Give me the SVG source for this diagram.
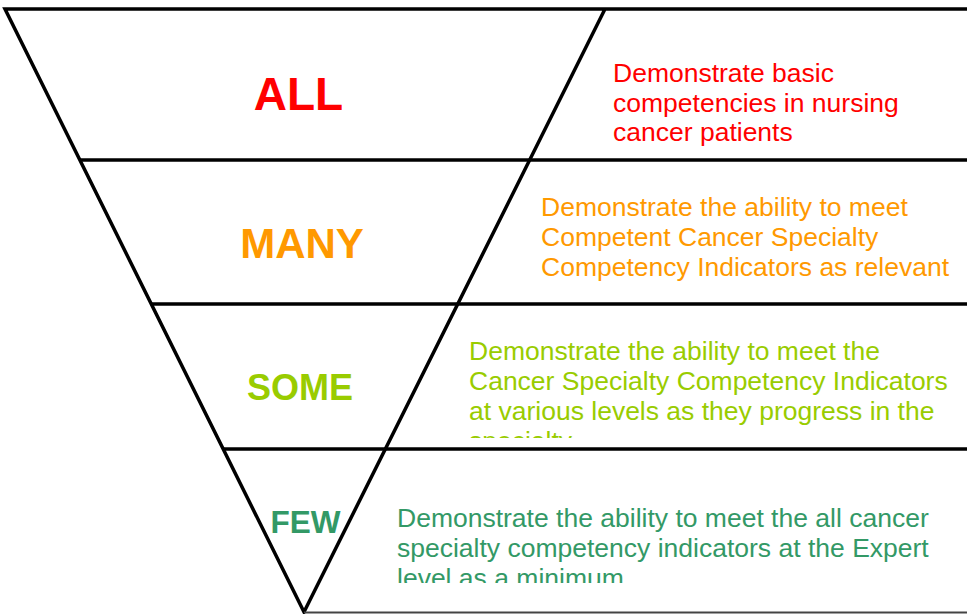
<svg xmlns="http://www.w3.org/2000/svg" width="967" height="614" viewBox="0 0 967 614">
  <style>
    .ln { stroke: #000; stroke-width: 3.5; fill: none; stroke-linejoin: miter; }
    .lbl { font-family: "Liberation Sans", Arial, sans-serif; font-weight: bold; text-anchor: middle; }
    .desc { font-family: "Liberation Sans", Arial, sans-serif; font-size: 26.5px; }
    .red { fill: #FF0000; }
    .orange { fill: #FF9900; }
    .lime { fill: #99CC00; }
    .green { fill: #339966; }
  </style>
  <defs>
    <clipPath id="clipSome"><rect x="460" y="330" width="507" height="108"/></clipPath>
    <clipPath id="clipFew"><rect x="390" y="500" width="577" height="83"/></clipPath>
  </defs>
  <rect width="967" height="614" fill="#fff"/>
  <g id="frame">
    <polyline class="ln" points="967,9 5,9 304,612 605,9"/>
    <line class="ln" x1="80" y1="160" x2="967" y2="160"/>
    <line class="ln" x1="152" y1="304" x2="967" y2="304"/>
    <line class="ln" x1="224" y1="449" x2="967" y2="449"/>
    <line x1="304" y1="612.5" x2="967" y2="612.5" stroke="#444" stroke-width="2"/>
  </g>
  <g id="connectors"></g>
  <g id="tier-all">
    <text class="lbl red" x="298.5" y="110" font-size="46">ALL</text>
    <text class="desc red" x="613" y="81.5">Demonstrate basic</text>
    <text class="desc red" x="613" y="111.5">competencies in nursing</text>
    <text class="desc red" x="613" y="141">cancer patients</text>
  </g>
  <g id="tier-many">
    <text class="lbl orange" x="302" y="258" font-size="42">MANY</text>
    <text class="desc orange" x="541" y="216">Demonstrate the ability to meet</text>
    <text class="desc orange" x="541" y="246">Competent Cancer Specialty</text>
    <text class="desc orange" x="541" y="276">Competency Indicators as relevant</text>
  </g>
  <g id="tier-some">
    <text class="lbl lime" x="300" y="400" font-size="36">SOME</text>
    <g clip-path="url(#clipSome)">
      <text class="desc lime" x="469" y="360">Demonstrate the ability to meet the</text>
      <text class="desc lime" x="469" y="390">Cancer Specialty Competency Indicators</text>
      <text class="desc lime" x="469" y="420">at various levels as they progress in the</text>
      <text class="desc lime" x="469" y="450">specialty</text>
    </g>
  </g>
  <g id="tier-few">
    <text class="lbl green" x="305.5" y="532.5" font-size="31.5">FEW</text>
    <g clip-path="url(#clipFew)">
      <text class="desc green" x="397" y="527">Demonstrate the ability to meet the all cancer</text>
      <text class="desc green" x="397" y="557">specialty competency indicators at the Expert</text>
      <text class="desc green" x="397" y="587">level as a minimum</text>
    </g>
  </g>
</svg>
